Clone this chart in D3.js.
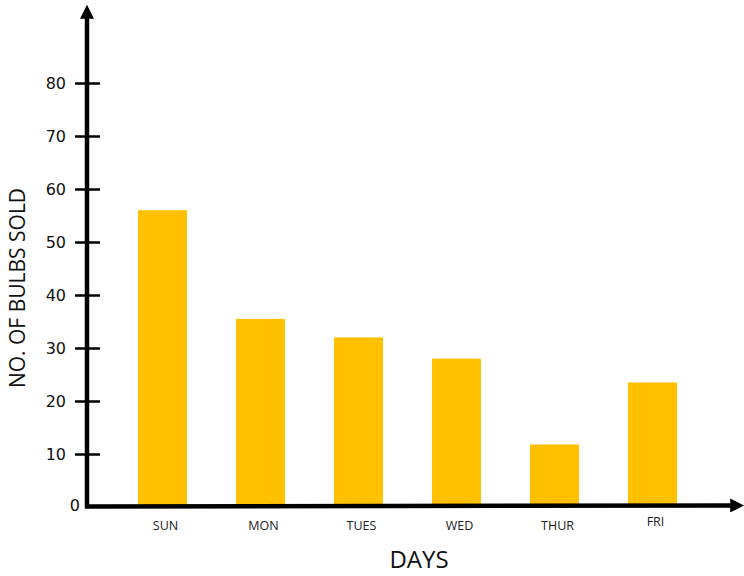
<!DOCTYPE html>
<html>
<head>
<meta charset="utf-8">
<script src="https://cdn.jsdelivr.net/npm/d3@7"></script>
<style>
  body { margin: 0; background: #fff; }
  svg { display: block; }
  .tick text { font-family: "DejaVu Sans", sans-serif; }
</style>
</head>
<body>
<div id="chart"></div>
<script>
// Data
const days = ["SUN", "MON", "TUES", "WED", "THUR", "FRI"]
const bulbsSold = [56, 35.5, 32, 28, 11.8, 23.5]
const yTicks = [10, 20, 30, 40, 50, 60, 70, 80]

const width = 744
const height = 576
const barColor = "#FFC000"

const svg = d3.select("#chart").append("svg")
  .attr("width", width).attr("height", height)

// Axis origin
const axisX = 87

// Scales
const yScale = d3.scaleLinear().domain([0, 80]).range([507, 83])
const xScale = d3.scaleBand().domain(days).range([89, 726])
  .paddingInner(0.5).paddingOuter(0.5)

// Bars
svg.selectAll("rect.bar").data(days).enter()
  .append("rect")
  .attr("class", "bar")
  .attr("x", d => xScale(d))
  .attr("width", xScale.bandwidth())
  .attr("y", (d, i) => yScale(bulbsSold[i]))
  .attr("height", (d, i) => yScale(0) - yScale(bulbsSold[i]))
  .attr("fill", barColor)

// Arrow head marker
const defs = svg.append("defs")
defs.append("marker")
  .attr("id", "arrow")
  .attr("viewBox", "0 0 10 10")
  .attr("refX", 2).attr("refY", 5)
  .attr("markerUnits", "userSpaceOnUse")
  .attr("markerWidth", 14).attr("markerHeight", 14)
  .attr("orient", "auto")
  .append("path").attr("d", "M0,0 L10,5 L0,10 z").attr("fill", "#000")

// X axis line
svg.append("line")
  .attr("x1", axisX - 2).attr("y1", yScale(0) - 0.5)
  .attr("x2", 733).attr("y2", yScale(0) - 1.5)
  .attr("stroke", "#000").attr("stroke-width", 4.5)
  .attr("marker-end", "url(#arrow)")

// Y axis line
svg.append("line")
  .attr("x1", axisX).attr("y1", yScale(0) + 1)
  .attr("x2", axisX).attr("y2", 16)
  .attr("stroke", "#000").attr("stroke-width", 4.5)
  .attr("marker-end", "url(#arrow)")

// Y ticks
const yAxis = svg.append("g")
  .attr("transform", `translate(${axisX}, 0)`)
  .call(d3.axisLeft(yScale).tickValues(yTicks).tickSizeOuter(0).tickPadding(15))
yAxis.select(".domain").remove()
yAxis.selectAll(".tick line")
  .attr("x1", -12).attr("x2", 13)
  .attr("stroke", "#000").attr("stroke-width", 2.5)
yAxis.selectAll(".tick text")
  .attr("font-size", 16).attr("fill", "#111")

// zero label sits a bit closer to the axis
svg.append("text")
  .attr("x", 80).attr("y", yScale(0) - 2)
  .attr("text-anchor", "end").attr("dy", "0.35em")
  .attr("font-family", "DejaVu Sans, sans-serif")
  .attr("font-size", 16).attr("fill", "#111")
  .text("0")

// Day labels
svg.selectAll("text.day").data(days).enter()
  .append("text")
  .attr("class", "day")
  .attr("x", d => xScale(d) + xScale.bandwidth() / 2 + 3)
  .attr("y", d => d === "FRI" ? 526 : 530)
  .attr("text-anchor", "middle")
  .attr("font-family", "Open Sans, sans-serif")
  .attr("font-size", 12.5).attr("fill", "#222")
  .text(d => d)

// Axis titles
svg.append("text")
  .attr("x", 419).attr("y", 568)
  .attr("text-anchor", "middle")
  .attr("font-family", "Open Sans, sans-serif")
  .attr("font-size", 24).attr("fill", "#111")
  .text("DAYS")

svg.append("text")
  .attr("transform", `translate(25, 288) rotate(-90)`)
  .attr("text-anchor", "middle")
  .attr("font-family", "Open Sans, sans-serif")
  .attr("font-size", 21).attr("fill", "#111")
  .text("NO. OF BULBS SOLD")
</script>
</body>
</html>
